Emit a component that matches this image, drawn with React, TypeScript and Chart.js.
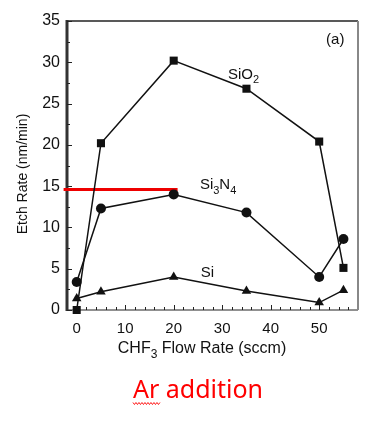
import React, { useEffect, useRef } from "react";
import { Chart, registerables } from "chart.js";

Chart.register(...registerables);

const flowRates = [0, 5, 20, 35, 50, 55];
const sio2Rates = [0, 20.2, 30.2, 26.8, 20.4, 5.1];
const si3n4Rates = [3.4, 12.3, 14.0, 11.8, 4.0, 8.6];
const siRates = [1.4, 2.2, 4.0, 2.3, 0.9, 2.4];
const xTickValues = [0, 10, 20, 30, 40, 50];
const yTickValues = [0, 5, 10, 15, 20, 25, 30, 35];
const redLineX = [-2.7, 20.8];
const redLineY = 14.6;

const FONT = '"Liberation Sans", Arial, sans-serif';
const INK = "#111";

function drawChem(ctx: CanvasRenderingContext2D, parts: [string, boolean][], x: number, y: number, size: number) {
  let cx = x;
  ctx.textBaseline = "middle";
  ctx.textAlign = "left";
  for (const [t, sub] of parts) {
    ctx.font = `${sub ? Math.round(size * 0.72) : size}px ${FONT}`;
    ctx.fillText(t, cx, sub ? y + size * 0.38 : y);
    cx += ctx.measureText(t).width;
  }
}

const decor = {
  id: "decor",
  beforeDatasetsDraw(chart: any) {
    const { ctx, chartArea: a, scales } = chart;
    const xs = scales.x, ys = scales.y;
    ctx.save();
    ctx.strokeStyle = "#222";
    ctx.lineWidth = 1.5;
    ctx.beginPath();
    ctx.moveTo(a.left, a.top);
    ctx.lineTo(a.right, a.top);
    ctx.stroke();
    ctx.lineWidth = 1;
    ctx.beginPath();
    ctx.moveTo(a.left, a.bottom);
    ctx.lineTo(a.right, a.bottom);
    ctx.stroke();
    ctx.strokeStyle = "#888";
    ctx.lineWidth = 2;
    ctx.beginPath();
    ctx.moveTo(a.right, a.top);
    ctx.lineTo(a.right, a.bottom);
    ctx.stroke();
    ctx.strokeStyle = "#333";
    ctx.lineWidth = 3;
    ctx.beginPath();
    ctx.moveTo(a.left, a.top - 1);
    ctx.lineTo(a.left, a.bottom + 1);
    ctx.stroke();
    ctx.strokeStyle = "#222";
    ctx.lineWidth = 1;
    for (let v = 0; v <= 35; v += 2.5) {
      const py = Math.round(ys.getPixelForValue(v)) + 0.5;
      const len = v % 5 === 0 ? 5 : 3;
      ctx.beginPath();
      ctx.moveTo(a.left, py);
      ctx.lineTo(a.left + len, py);
      ctx.stroke();
    }
    for (let v = 0; v <= 56; v += 2) {
      const px = Math.round(xs.getPixelForValue(v)) + 0.5;
      const len = v % 10 === 0 ? 5 : 3;
      ctx.beginPath();
      ctx.moveTo(px, a.bottom);
      ctx.lineTo(px, a.bottom - len);
      ctx.stroke();
    }
    ctx.restore();
  },
  afterDraw(chart: any) {
    const { ctx, scales } = chart;
    const xs = scales.x, ys = scales.y;
    ctx.save();
    ctx.fillStyle = INK;
    drawChem(ctx, [["SiO", false], ["2", true]], xs.getPixelForValue(31.2), ys.getPixelForValue(28.5), 15);
    drawChem(ctx, [["Si", false], ["3", true], ["N", false], ["4", true]], xs.getPixelForValue(25.4), ys.getPixelForValue(15.1), 15);
    drawChem(ctx, [["Si", false]], xs.getPixelForValue(25.6), ys.getPixelForValue(4.5), 15);
    ctx.font = `15px ${FONT}`;
    ctx.textAlign = "center";
    ctx.textBaseline = "middle";
    ctx.fillText("(a)", xs.getPixelForValue(53.3), ys.getPixelForValue(32.7));
    ctx.save();
    ctx.translate(23, 174);
    ctx.rotate(-Math.PI / 2);
    ctx.font = `14px ${FONT}`;
    ctx.textAlign = "center";
    ctx.textBaseline = "middle";
    ctx.fillText("Etch Rate (nm/min)", 0, 0);
    ctx.restore();
    const parts: [string, boolean][] = [["CHF", false], ["3", true], [" Flow Rate (sccm)", false]];
    let w = 0;
    for (const [t, sub] of parts) {
      ctx.font = `${sub ? 12 : 16}px ${FONT}`;
      w += ctx.measureText(t).width;
    }
    drawChem(ctx, parts, 202 - w / 2, 349, 16);
    ctx.fillStyle = "#ff0000";
    ctx.font = `25px "Noto Sans", "Open Sans", sans-serif`;
    ctx.textAlign = "center";
    ctx.textBaseline = "alphabetic";
    ctx.fillText("Ar addition", 198, 398);
    ctx.textAlign = "left";
    const arW = ctx.measureText("Ar").width;
    const startX = 198 - ctx.measureText("Ar addition").width / 2;
    ctx.strokeStyle = "#ff0000";
    ctx.lineWidth = 0.9;
    ctx.beginPath();
    for (let i = 0, px = startX; px <= startX + arW + 1; i++, px += 1.5) {
      const py = 403.5 + (i % 2 === 0 ? -1 : 1);
      if (i === 0) ctx.moveTo(px, py);
      else ctx.lineTo(px, py);
    }
    ctx.stroke();
    ctx.restore();
  },
};

export default function App() {
  const ref = useRef<HTMLCanvasElement | null>(null);
  useEffect(() => {
    if (!ref.current) return;
    const mk = (ys: number[]) => flowRates.map((x, i) => ({ x, y: ys[i] }));
    const chart = new Chart(ref.current, {
      type: "scatter",
      data: {
        datasets: [
          {
            label: "SiO2",
            data: mk(sio2Rates),
            showLine: true,
            borderColor: INK,
            backgroundColor: INK,
            borderWidth: 1.5,
            pointStyle: "rect",
            pointRadius: 5.7,
            pointBorderWidth: 0,
            clip: false,
          },
          {
            label: "Si3N4",
            data: mk(si3n4Rates),
            showLine: true,
            borderColor: INK,
            backgroundColor: INK,
            borderWidth: 1.5,
            pointStyle: "circle",
            pointRadius: 5,
            pointBorderWidth: 0,
            clip: false,
          },
          {
            label: "Si",
            data: mk(siRates),
            showLine: true,
            borderColor: INK,
            backgroundColor: INK,
            borderWidth: 1.5,
            pointStyle: "triangle",
            pointRadius: 5.5,
            pointBorderWidth: 0,
            clip: false,
          },
          {
            label: "marker",
            data: redLineX.map((x) => ({ x, y: redLineY })),
            showLine: true,
            borderColor: "#ee0000",
            borderWidth: 3,
            pointRadius: 0,
            clip: false,
          },
        ],
      },
      options: {
        responsive: false,
        animation: false,
        layout: { padding: { left: 0, top: 21, right: 30, bottom: 0 } },
        plugins: { legend: { display: false }, tooltip: { enabled: false } },
        scales: {
          x: {
            type: "linear",
            min: -2,
            max: 58,
            grid: { display: false, drawTicks: false },
            border: { display: false },
            ticks: { padding: 10, color: INK, font: { family: FONT, size: 15 } },
            afterBuildTicks: (s: any) => {
              s.ticks = xTickValues.map((value) => ({ value }));
            },
            afterFit: (s: any) => {
              s.height = 112;
            },
          },
          y: {
            type: "linear",
            min: 0,
            max: 35,
            grid: { display: false, drawTicks: false },
            border: { display: false },
            ticks: { padding: 7, color: INK, font: { family: FONT, size: 16 } },
            afterBuildTicks: (s: any) => {
              s.ticks = yTickValues.map((value) => ({ value }));
            },
            afterFit: (s: any) => {
              s.width = 67;
            },
          },
        },
      },
      plugins: [decor],
    } as any);
    return () => chart.destroy();
  }, []);
  return (
    <div style={{ position: "fixed", left: 0, top: 0, width: 388, height: 422, background: "#fff" }}>
      <canvas ref={ref} width={388} height={422} style={{ display: "block" }} />
    </div>
  );
}
